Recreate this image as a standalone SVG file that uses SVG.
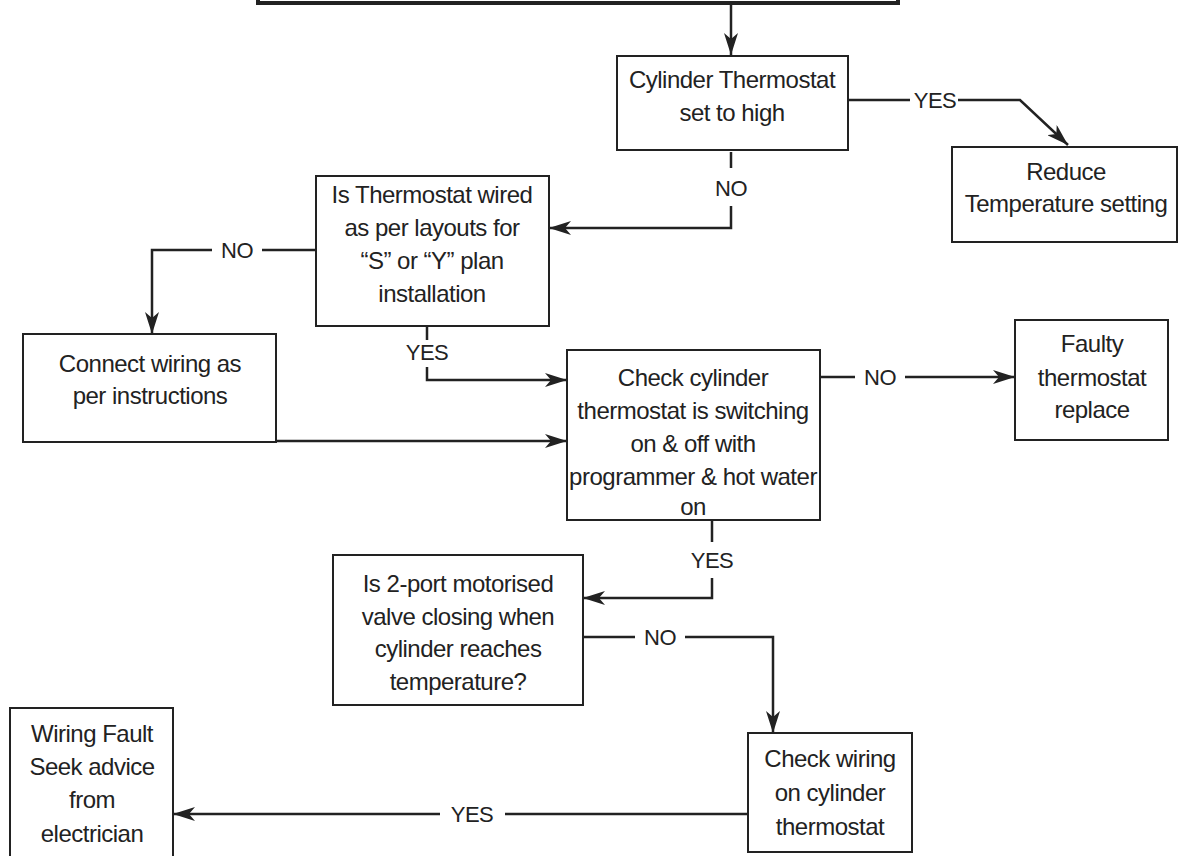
<svg xmlns="http://www.w3.org/2000/svg" width="1178" height="856" viewBox="0 0 1178 856">
<defs>
<marker id="ah" viewBox="0 0 22 14" refX="22" refY="7" markerWidth="22" markerHeight="14" markerUnits="userSpaceOnUse" orient="auto">
<path d="M0,0 L22,7 L0,14 L6,7 Z" fill="#222"/>
</marker>
<style>
.box{fill:#fff;stroke:#222;stroke-width:2}
.t{font-family:"Liberation Sans",Arial,sans-serif;font-size:24px;letter-spacing:-0.5px;fill:#222;text-anchor:middle}
.c{fill:none;stroke:#222;stroke-width:2.5}
.lbl{font-family:"Liberation Sans",Arial,sans-serif;font-size:22px;letter-spacing:-0.5px;fill:#222;text-anchor:middle}
</style>
</defs>
<rect width="1178" height="856" fill="#fff"/>
<g id="top">
<rect x="258" y="-60" width="640" height="63" fill="#fff" stroke="#222" stroke-width="4"/>
</g>
<g id="connectors">
<path class="c" d="M731,5 V55" marker-end="url(#ah)"/>
<path class="c" d="M848,100 H910 M958,100 H1020 L1068,145" marker-end="url(#ah)"/>
<path class="c" d="M731,152 V168 M731,206 V228 H549" marker-end="url(#ah)"/>
<path class="c" d="M316,250 H262 M212,250 H152 V334" marker-end="url(#ah)"/>
<path class="c" d="M427,326 V340 M427,367 V380 H567" marker-end="url(#ah)"/>
<path class="c" d="M276,441 H567" marker-end="url(#ah)"/>
<path class="c" d="M820,377 H855 M905,377 H1015" marker-end="url(#ah)"/>
<path class="c" d="M712,520 V542 M712,578 V598 H583" marker-end="url(#ah)"/>
<path class="c" d="M583,637 H635 M685,637 H773 V733" marker-end="url(#ah)"/>
<path class="c" d="M748,814 H505 M440,814 H173" marker-end="url(#ah)"/>
<text class="lbl" x="935" y="108">YES</text>
<text class="lbl" x="731" y="196">NO</text>
<text class="lbl" x="237" y="258">NO</text>
<text class="lbl" x="427" y="360">YES</text>
<text class="lbl" x="880" y="385">NO</text>
<text class="lbl" x="712" y="568">YES</text>
<text class="lbl" x="660" y="645">NO</text>
<text class="lbl" x="472" y="822">YES</text>
</g>
<g id="n1">
<rect class="box" x="617" y="56" width="231" height="94"/>
<text class="t" x="732" y="88">Cylinder Thermostat</text>
<text class="t" x="732" y="121">set to high</text>
</g>
<g id="n2">
<rect class="box" x="952" y="147" width="225" height="95"/>
<text class="t" x="1066" y="180">Reduce</text>
<text class="t" x="1066" y="212">Temperature setting</text>
</g>
<g id="n3">
<rect class="box" x="316" y="176" width="233" height="150"/>
<text class="t" x="432" y="203">Is Thermostat wired</text>
<text class="t" x="432" y="236">as per layouts for</text>
<text class="t" x="432" y="269">“S” or “Y” plan</text>
<text class="t" x="432" y="302">installation</text>
</g>
<g id="n4">
<rect class="box" x="23" y="334" width="253" height="108"/>
<text class="t" x="150" y="372">Connect wiring as</text>
<text class="t" x="150" y="404">per instructions</text>
</g>
<g id="n5">
<rect class="box" x="567" y="350" width="253" height="170"/>
<text class="t" x="693" y="386">Check cylinder</text>
<text class="t" x="693" y="419">thermostat is switching</text>
<text class="t" x="693" y="452">on &amp; off with</text>
<text class="t" x="693" y="485">programmer &amp; hot water</text>
<text class="t" x="693" y="515">on</text>
</g>
<g id="n6">
<rect class="box" x="1015" y="320" width="153" height="120"/>
<text class="t" x="1092" y="352">Faulty</text>
<text class="t" x="1092" y="386">thermostat</text>
<text class="t" x="1092" y="418">replace</text>
</g>
<g id="n7">
<rect class="box" x="333" y="555" width="250" height="150"/>
<text class="t" x="458" y="592">Is 2-port motorised</text>
<text class="t" x="458" y="625">valve closing when</text>
<text class="t" x="458" y="657">cylinder reaches</text>
<text class="t" x="458" y="690">temperature?</text>
</g>
<g id="n8">
<rect class="box" x="748" y="733" width="164" height="119"/>
<text class="t" x="830" y="767">Check wiring</text>
<text class="t" x="830" y="801">on cylinder</text>
<text class="t" x="830" y="835">thermostat</text>
</g>
<g id="n9">
<rect class="box" x="10" y="708" width="163" height="160"/>
<text class="t" x="92" y="742">Wiring Fault</text>
<text class="t" x="92" y="775">Seek advice</text>
<text class="t" x="92" y="808">from</text>
<text class="t" x="92" y="842">electrician</text>
</g>
</svg>
